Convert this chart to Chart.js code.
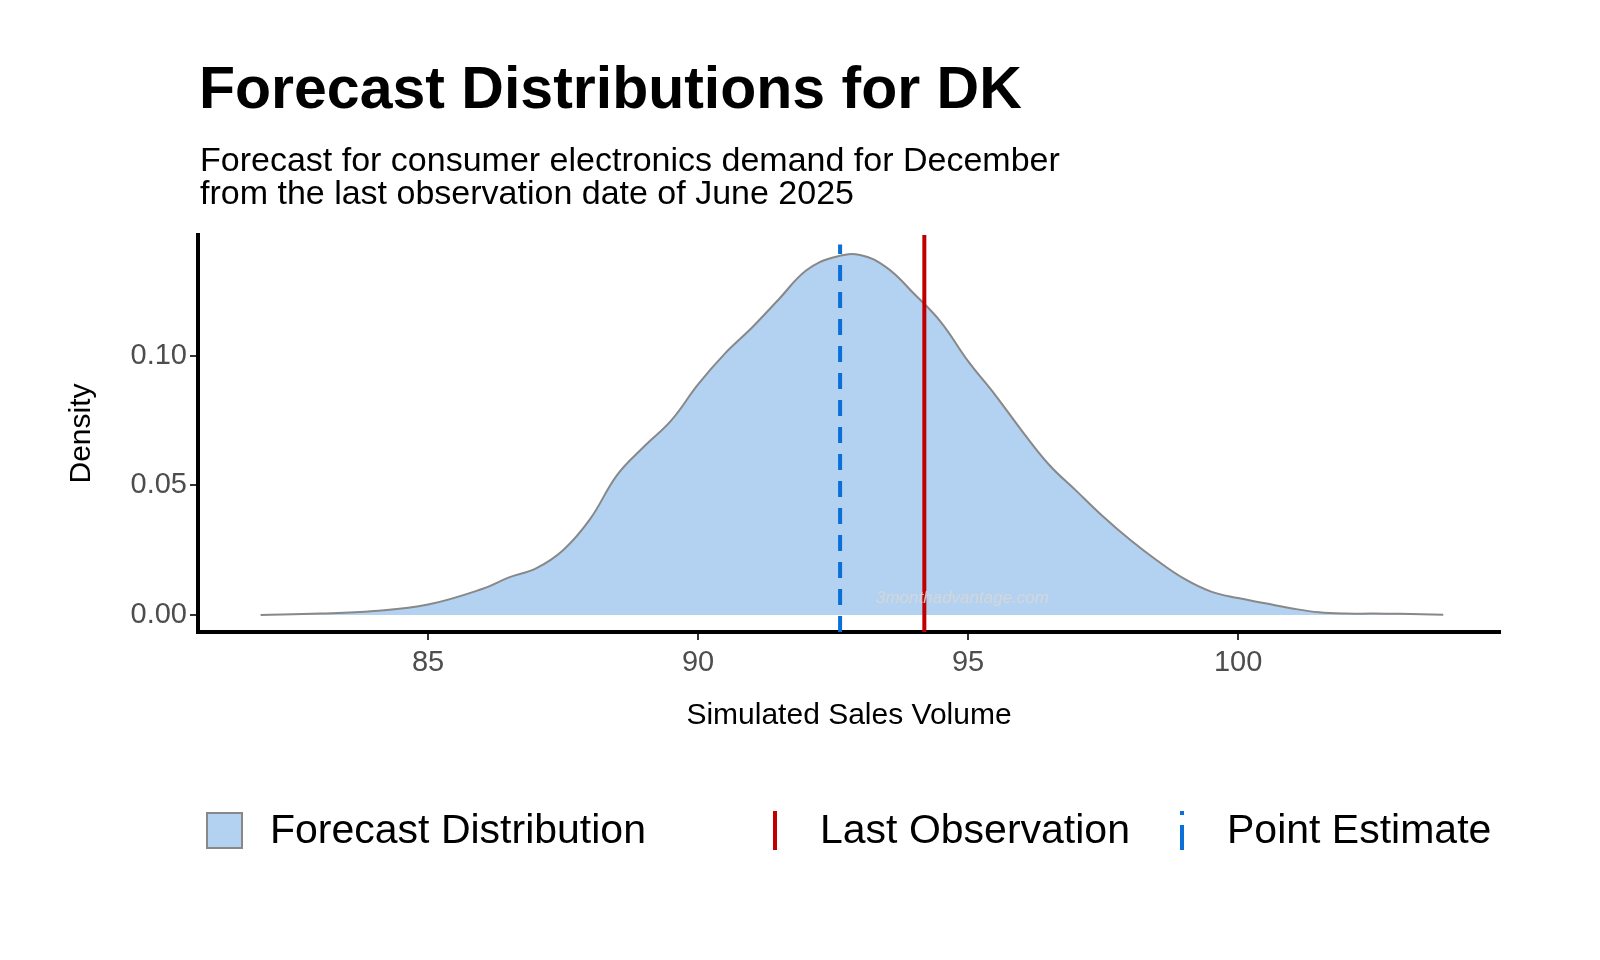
<!DOCTYPE html>
<html>
<head>
<meta charset="utf-8">
<script src="https://cdn.jsdelivr.net/npm/chart.js@4.4.1/dist/chart.umd.min.js"></script>
<style>
  body { margin: 0; background: #fff; font-family: "Liberation Sans", Arial, sans-serif; }
  #wrap { position: relative; width: 1600px; height: 960px; }
  canvas { position: absolute; left: 0; top: 0; }
  .t { position: absolute; white-space: nowrap; }
  #title { left: 199px; top: 54px; font-size: 59px; font-weight: bold; }
  #sub { left: 200px; top: 143px; font-size: 34px; line-height: 33px; }
  #mark { left: 876px; top: 588px; font-size: 17px; font-style: italic; color: rgba(215,215,215,0.9); }
  .leg { position: absolute; top: 806px; font-size: 41px; }
  .box { position: absolute; top: 812px; width: 33px; height: 33px; background: #b3d2f1; border: 2px solid #888; }
  .vl { position: absolute; top: 811px; width: 4px; height: 39px; }
</style>
</head>
<body>
<div id="wrap">
  <canvas id="c" width="1600" height="960"></canvas>
  <div class="t" id="title">Forecast Distributions for DK</div>
  <div class="t" id="sub">Forecast for consumer electronics demand for December<br>from the last observation date of June 2025</div>
  <div class="t" id="mark">3monthadvantage.com</div>
  <div class="box" style="left:206px"></div>
  <div class="t leg" style="left:270px">Forecast Distribution</div>
  <div class="vl" style="left:773px;background:#c00000"></div>
  <div class="t leg" style="left:820px">Last Observation</div>
  <div class="vl" style="left:1180px;background:linear-gradient(#0a6fd6 0 4px, transparent 4px 14px, #0a6fd6 14px)"></div>
  <div class="t leg" style="left:1227px">Point Estimate</div>
</div>
<script>
// density curve
const xs = [81.9, 83, 84, 85, 86, 86.5, 87, 87.5, 88, 88.5, 89, 89.5, 90, 90.5, 91, 91.5, 92, 92.5, 93, 93.5,
  94, 94.5, 95, 95.5, 96, 96.5, 97, 97.5, 98, 98.5, 99, 99.5, 100, 100.5, 101, 101.5, 102, 102.5, 103, 103.8];
const density = [0, 0.0005, 0.0015, 0.004, 0.010, 0.0145, 0.018, 0.025, 0.037, 0.054, 0.065, 0.075, 0.089, 0.101, 0.111, 0.122, 0.133, 0.138, 0.139, 0.134,
  0.124, 0.113, 0.098, 0.085, 0.071, 0.058, 0.048, 0.038, 0.029, 0.021, 0.014, 0.009, 0.0065, 0.0045, 0.0025, 0.001, 0.0005, 0.0005, 0.0004, 0.0001];
const lastObservation = 94.19;
const pointEstimate = 92.63;
const xTicks = [85, 90, 95, 100];
const yTicks = [0, 0.05, 0.10];

const yMin = -0.0066, yMax = 0.1467;

new Chart(document.getElementById('c'), {
  type: 'line',
  data: {
    datasets: [
      {
        data: xs.map((x, i) => ({ x: x, y: density[i] })),
        borderColor: '#888', borderWidth: 2, backgroundColor: '#b3d2f1',
        fill: 'origin', tension: 0.4, pointRadius: 0, order: 3
      },
      {
        data: [{ x: lastObservation, y: yMin }, { x: lastObservation, y: yMax }],
        borderColor: '#c00000', borderWidth: 4, pointRadius: 0, order: 2
      },
      {
        data: [{ x: pointEstimate, y: yMin }, { x: pointEstimate, y: 0.143 }],
        borderColor: '#0a6fd6', borderWidth: 4, borderDash: [16, 11], pointRadius: 0, order: 1
      }
    ]
  },
  options: {
    responsive: false, animation: false,
    layout: { padding: { top: 235, bottom: 222, left: 60, right: 100 } },
    plugins: { legend: { display: false }, tooltip: { enabled: false } },
    scales: {
      x: {
        type: 'linear', min: 80.74, max: 104.85,
        afterBuildTicks: s => { s.ticks = xTicks.map(v => ({ value: v })); },
        afterFit: s => { s.height = 106; },
        grid: { drawOnChartArea: false, tickLength: 8, color: '#333', lineWidth: 2 },
        border: { color: '#000', width: 4 },
        ticks: { font: { size: 29, family: 'Liberation Sans' }, color: '#4d4d4d', padding: 6 },
        title: { display: true, text: 'Simulated Sales Volume', font: { size: 30, family: 'Liberation Sans' }, color: '#000', padding: { top: 0 } }
      },
      y: {
        min: yMin, max: yMax,
        afterBuildTicks: s => { s.ticks = yTicks.map(v => ({ value: v })); },
        afterFit: s => { s.width = 138; },
        grid: { drawOnChartArea: false, tickLength: 8, color: '#333', lineWidth: 2 },
        border: { color: '#000', width: 4 },
        ticks: { font: { size: 29, family: 'Liberation Sans' }, color: '#4d4d4d', callback: v => v.toFixed(2) },
        title: { display: true, text: 'Density', font: { size: 30, family: 'Liberation Sans' }, color: '#000' }
      }
    }
  }
});
</script>
</body>
</html>
